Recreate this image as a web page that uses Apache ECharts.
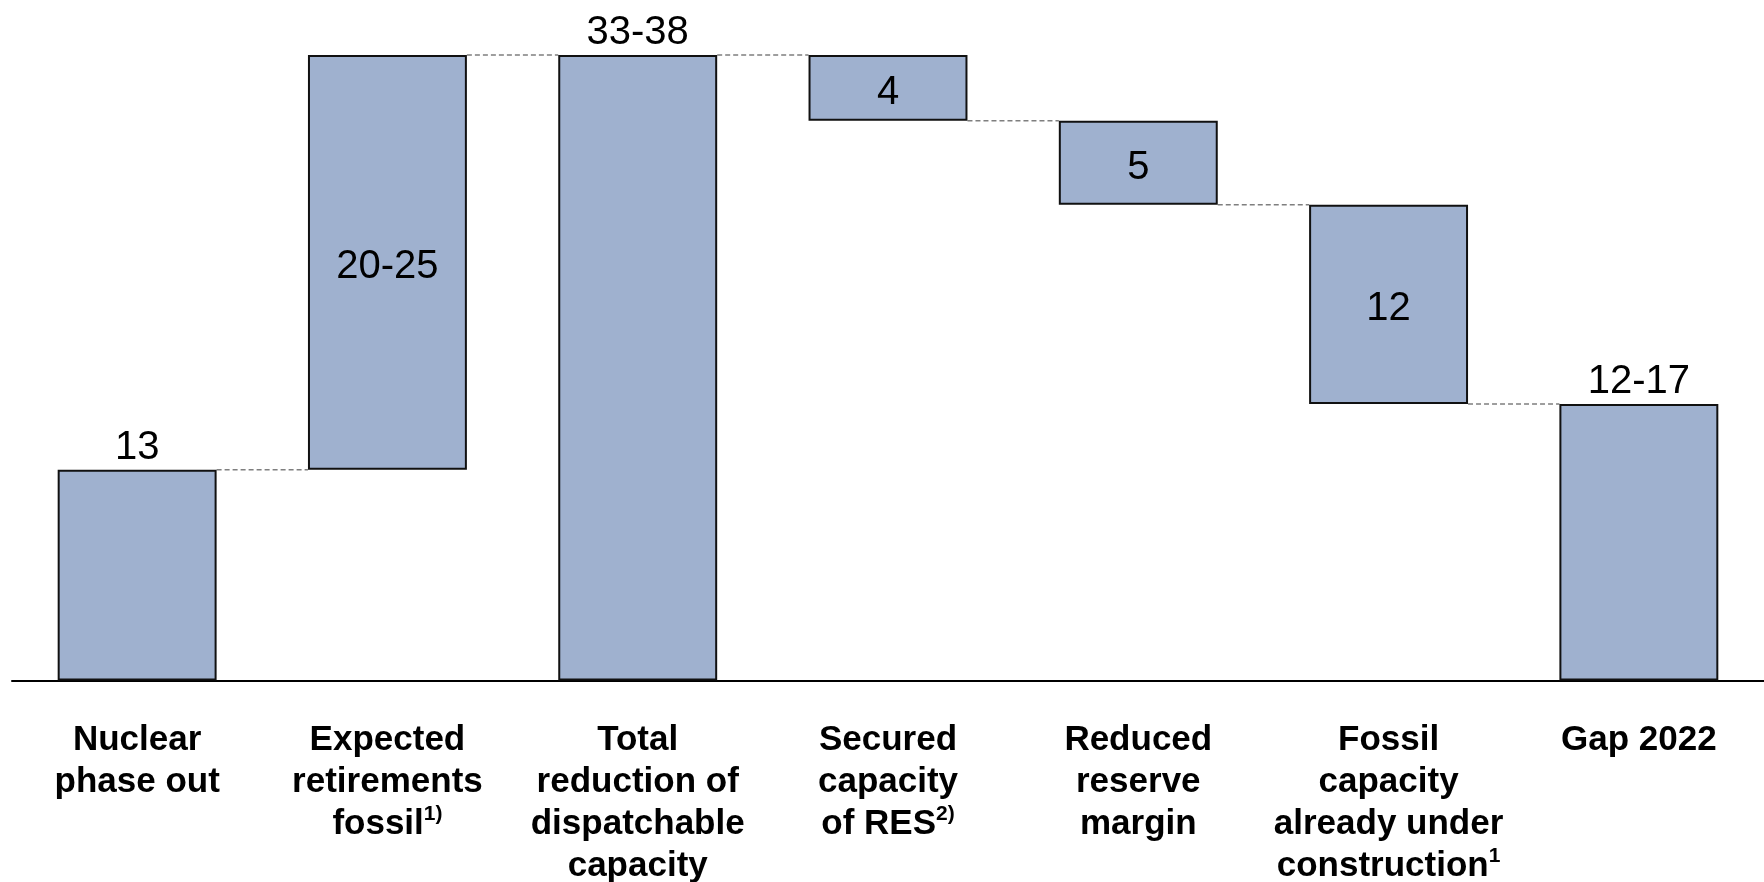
<!DOCTYPE html>
<html>
<head>
<meta charset="utf-8">
<script src="https://cdn.jsdelivr.net/npm/echarts@6/dist/echarts.min.js"></script>
<style>
  html, body { margin: 0; padding: 0; background: #fff; }
  #chart { width: 1764px; height: 882px; }
</style>
</head>
<body>
<div id="chart"></div>
<script>
// categories and footnote markers (shown as superscript after the last line)
const categories = [
    'Nuclear\nphase out',
    'Expected\nretirements\nfossil',
    'Total\nreduction of\ndispatchable\ncapacity',
    'Secured\ncapacity\nof RES',
    'Reduced\nreserve\nmargin',
    'Fossil\ncapacity\nalready under\nconstruction',
    'Gap 2022'
];
const footnotes = ['', '1)', '', '2)', '', '1', ''];

// bar heights (GW)
const values = [12.8, 25.2, 38, 4, 5.1, 12.1, 16.8];
// 'total' starts at zero, 'up' adds, 'down' subtracts
const kinds = ['total', 'up', 'total', 'down', 'down', 'down', 'total'];
const valueLabels = ['13', '20-25', '33-38', '4', '5', '12', '12-17'];

const BAR_RATIO = 0.635;

// waterfall: invisible base + visible part
const base = [];
const levels = []; // level of the edge shared with the next bar
let running = 0;
values.forEach((v, i) => {
    if (kinds[i] === 'total') {
        base.push(0);
        running = v;
        levels.push(v);
    } else if (kinds[i] === 'up') {
        base.push(running);
        running += v;
        levels.push(running);
    } else {
        running -= v;
        base.push(running);
        levels.push(running);
    }
});
const connectors = [];
for (let i = 0; i < values.length - 1; i++) {
    connectors.push([i, levels[i]]);
}

const chart = echarts.init(document.getElementById('chart'));
const option = {
    animation: false,
    textStyle: { fontFamily: '"Liberation Sans", Arial, sans-serif' },
    grid: { left: 12, right: 0, top: 55, bottom: 201.5, outerBoundsMode: 'none', containLabel: false },
    xAxis: {
        type: 'category',
        data: categories,
        axisLine: { lineStyle: { color: '#000', width: 2 } },
        axisTick: { show: false },
        axisLabel: {
            interval: 0,
            margin: 39,
            color: '#000',
            fontSize: 35,
            fontWeight: 'bold',
            lineHeight: 42,
            formatter: (value, index) => {
                const fn = footnotes[index];
                return fn ? value + '{sup|' + fn + '}' : value;
            },
            rich: {
                sup: {
                    fontSize: 21,
                    fontWeight: 'bold',
                    color: '#000',
                    verticalAlign: 'top',
                    lineHeight: 30
                }
            }
        }
    },
    yAxis: {
        type: 'value',
        min: 0,
        max: 38,
        show: false,
        splitLine: { show: false }
    },
    series: [
        {
            name: 'base',
            type: 'bar',
            stack: 'wf',
            barWidth: (BAR_RATIO * 100) + '%',
            itemStyle: { color: 'transparent', borderWidth: 0 },
            emphasis: { disabled: true },
            silent: true,
            data: base
        },
        {
            name: 'value',
            type: 'bar',
            stack: 'wf',
            barWidth: (BAR_RATIO * 100) + '%',
            itemStyle: { color: '#9fb1cf', borderColor: '#111', borderWidth: 2 },
            emphasis: { disabled: true },
            label: {
                show: true,
                color: '#000',
                fontSize: 40,
                offset: [0, 5],
                formatter: (p) => valueLabels[p.dataIndex]
            },
            data: values.map((v, i) => ({
                value: v,
                label: { position: kinds[i] === 'total' ? 'top' : 'inside', distance: 7 }
            }))
        },
        {
            name: 'connectors',
            type: 'custom',
            silent: true,
            encode: { x: 0, y: 1 },
            data: connectors,
            renderItem: (params, api) => {
                const i = api.value(0);
                const lvl = api.value(1);
                const p = api.coord([i, lvl]);
                const q = api.coord([i + 1, lvl]);
                const half = api.size([1, 0])[0] * BAR_RATIO / 2;
                return {
                    type: 'line',
                    shape: { x1: p[0] + half, y1: p[1], x2: q[0] - half, y2: q[1] },
                    style: { stroke: '#7f7f7f', lineWidth: 1.5, lineDash: [5, 3] }
                };
            }
        }
    ]
};
chart.setOption(option);
</script>
</body>
</html>
